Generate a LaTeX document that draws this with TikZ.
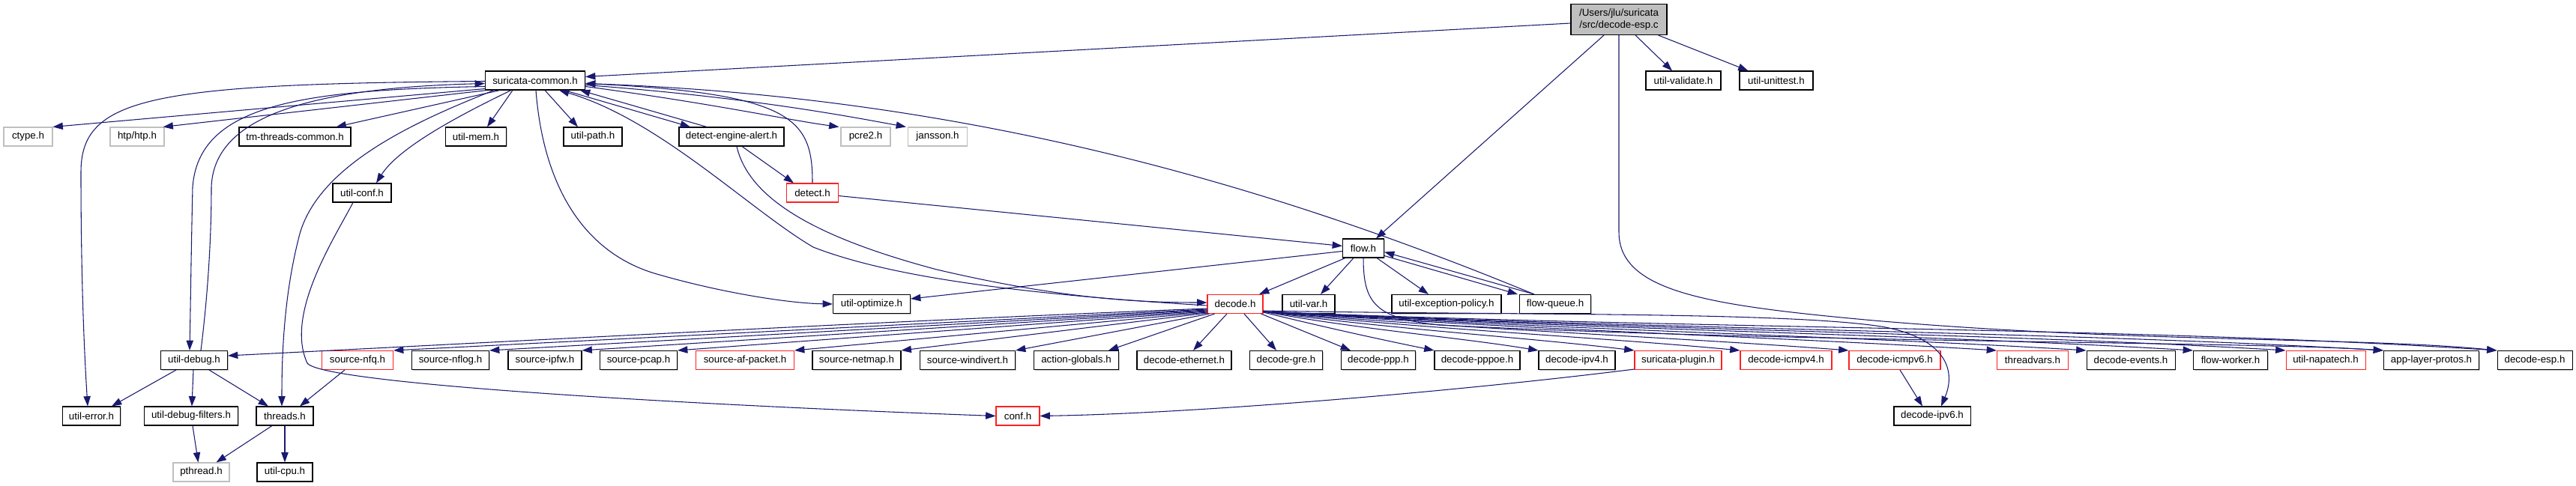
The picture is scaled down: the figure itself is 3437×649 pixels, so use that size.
\documentclass[tikz,border=0pt]{standalone}
\usepackage{fontspec}
\setmainfont{Liberation Sans}
\usetikzlibrary{arrows.meta,calc,shadows}
\definecolor{edgec}{HTML}{191970}
\definecolor{mainfill}{HTML}{BFBFBF}
\definecolor{greyb}{HTML}{BFBFBF}
\definecolor{redb}{HTML}{FF2020}
\begin{document}
\begin{tikzpicture}[x=0.75pt,y=-0.75pt,
  box/.style={fill=white, line width=0.8pt, minimum height=18.75pt, inner sep=0pt, font=\fontsize{10}{12}\selectfont},
  nb/.style={box, draw=black, drop shadow={shadow xshift=0.75pt, shadow yshift=-0.75pt, fill=black!22, opacity=1}},
  nr/.style={box, draw=redb},
  ng/.style={box, draw=greyb},
  w/.style={minimum width=#1*0.75pt},
  e/.style={draw=edgec, line width=0.8pt, -{Triangle[length=10pt,width=7pt]}},
]
\useasboundingbox (0,0) rectangle (3437,649);

% nodes
\node[nb, w=128, minimum height=30.75pt, fill=mainfill, align=center] (main) at (2160,26) {/Users/jlu/suricata\\/src/decode-esp.c};
\node[nb, w=133] (sc) at (714,107.5) {suricata-common.h};
\node[nb, w=100] (uval) at (2246,107.5) {util-validate.h};
\node[nb, w=98] (uunit) at (2370,107.5) {util-unittest.h};
\node[ng, w=65] (ctype) at (37.5,182.5) {ctype.h};
\node[ng, w=72] (htp) at (183,182.5) {htp/htp.h};
\node[nb, w=149] (tmtc) at (393.5,182.5) {tm-threads-common.h};
\node[nb, w=81] (umem) at (635,182.5) {util-mem.h};
\node[nb, w=78] (upath) at (791,182.5) {util-path.h};
\node[nb, w=140] (dea) at (976,182.5) {detect-engine-alert.h};
\node[ng, w=66] (pcre) at (1155,182.5) {pcre2.h};
\node[ng, w=79] (jans) at (1251,182.5) {jansson.h};
\node[nb, w=78] (uconf) at (483,257.5) {util-conf.h};
\node[nr, w=69] (detect) at (1084,257.5) {detect.h};
\node[nb, w=55] (flow) at (1819,331.5) {flow.h};
\node[nb, w=103] (uopt) at (1163,406) {util-optimize.h};
\node[nr, w=74] (decode) at (1648,406) {decode.h};
\node[nb, w=70] (uvar) at (1746,406) {util-var.h};
\node[nb, w=146] (uexc) at (1930,406) {util-exception-policy.h};
\node[nb, w=95] (fq) at (2075,406) {flow-queue.h};

\node[nb, w=89] (udebug) at (259,481) {util-debug.h};
\node[nr, w=95] (nfq) at (477,481) {source-nfq.h};
\node[nb, w=103] (nflog) at (601,481) {source-nflog.h};
\node[nb, w=98] (ipfw) at (727,481) {source-ipfw.h};
\node[nb, w=103] (pcap) at (852,481) {source-pcap.h};
\node[nr, w=131] (afp) at (994,481) {source-af-packet.h};
\node[nb, w=118] (netmap) at (1143,481) {source-netmap.h};
\node[nb, w=127] (windivert) at (1291,481) {source-windivert.h};
\node[nb, w=113] (actg) at (1436,481) {action-globals.h};
\node[nb, w=126] (deth) at (1580,481) {decode-ethernet.h};
\node[nb, w=97] (dgre) at (1716,481) {decode-gre.h};
\node[nb, w=99] (dppp) at (1839,481) {decode-ppp.h};
\node[nb, w=114] (dpppoe) at (1971,481) {decode-pppoe.h};
\node[nb, w=102] (dipv4) at (2104,481) {decode-ipv4.h};
\node[nr, w=116] (splugin) at (2239,481) {suricata-plugin.h};
\node[nr, w=122] (icmp4) at (2383,481) {decode-icmpv4.h};
\node[nr, w=122] (icmp6) at (2528,481) {decode-icmpv6.h};
\node[nr, w=95] (tv) at (2712,481) {threadvars.h};
\node[nb, w=118] (devents) at (2843,481) {decode-events.h};
\node[nb, w=99] (fworker) at (2976,481) {flow-worker.h};
\node[nr, w=106] (napatech) at (3103,481) {util-napatech.h};
\node[nb, w=127] (alp) at (3244,481) {app-layer-protos.h};
\node[nb, w=100] (desp) at (3382,481) {decode-esp.h};

\node[nb, w=77] (uerr) at (122,555.5) {util-error.h};
\node[nb, w=125] (udf) at (255,555.5) {util-debug-filters.h};
\node[nb, w=76] (threads) at (380,555.5) {threads.h};
\node[nr, w=58] (conf) at (1358,555.5) {conf.h};
\node[nb, w=102] (dipv6) at (2578,555.5) {decode-ipv6.h};

\node[ng, w=75] (pthread) at (268.5,630.5) {pthread.h};
\node[nb, w=74] (ucpu) at (380,630.5) {util-cpu.h};

% edges from main
\draw[e] ($(main.west)+(0,5)$) -- ($(sc.east)+(0,-5)$);
\draw[e] ($(main.south)+(-20,0)$) -- ($(flow.north)+(17,0)$);
\draw[e] ($(main.south)+(22,0)$) -- ($(uval.north)+(-15,0)$);
\draw[e] ($(main.south east)+(-12,0)$) -- ($(uunit.north west)+(12,0)$);
\draw[e] (main.south) -- (2160,310) .. controls (2160,390) and (2280,408) .. (2500,428) .. controls (2850,458) and (3150,450) .. (desp.north west);

% edges from suricata-common
\draw[e] ($(sc.south west)+(0,-2)$) -- (ctype.north east);
\draw[e] ($(sc.south west)+(3,0)$) -- ($(htp.north east)+(-2,0)$);
\draw[e] ($(sc.south west)+(20,0)$) -- ($(tmtc.north)+(55,0)$);
\draw[e] ($(sc.south)+(-30,0)$) -- ($(umem.north)+(15,0)$);
\draw[e] ($(sc.south)+(13,0)$) -- ($(upath.north)+(-20,0)$);
\draw[e] ($(sc.south)+(39,0)$) -- ($(dea.north)+(-55,0)$);
\draw[e] ($(dea.north)+(-33,0)$) -- ($(sc.south)+(60,0)$);
\draw[e] ($(sc.east)+(0,8)$) .. controls (950,138) and (1050,160) .. ($(pcre.north west)+(-2,0)$);
\draw[e] ($(sc.east)+(0,6)$) .. controls (1000,130) and (1130,155) .. ($(jans.north west)+(-2,0)$);
\draw[e] ($(sc.south west)+(35,0)$) .. controls (600,160) and (530,200) .. ($(uconf.north)+(19,0)$);
\draw[e] ($(sc.west)+(0,1)$) .. controls (200,112) and (108,130) .. (108,230) .. controls (108,380) and (113,480) .. ($(uerr.north)+(-5,0)$);
\draw[e] ($(sc.west)+(0,8)$) .. controls (400,120) and (265,140) .. (257,250) .. controls (255,340) and (254,420) .. ($(udebug.north)+(-6,0)$);
\draw[e] ($(udebug.north)+(9,0)$) .. controls (274,420) and (282,340) .. (282,250) .. controls (285,160) and (400,118) .. ($(sc.west)+(0,4)$);
\draw[e] ($(sc.south west)+(12,0)$) .. controls (560,160) and (420,220) .. (398,320) .. controls (378,400) and (376,480) .. ($(threads.north)+(-4,0)$);
\draw[e] ($(uconf.south)+(-12,0)$) .. controls (445,320) and (380,420) .. (410,485) .. controls (430,512) and (900,540) .. (conf.west);
\draw[e] ($(sc.south)+(1,0)$) .. controls (725,250) and (780,340) .. (880,367) .. controls (960,390) and (1050,405) .. (uopt.west);
\draw[e] ($(dea.south)+(7,0)$) .. controls (1000,270) and (1100,320) .. (1250,360) .. controls (1400,395) and (1500,404) .. ($(decode.west)+(0,-2)$);
\draw[e] ($(decode.west)+(0,2)$) .. controls (1400,395) and (1200,375) .. (1085,330) .. controls (1000,280) and (880,160) .. ($(sc.south)+(32,0)$);
\draw[e] ($(dea.south)+(14,0)$) -- ($(detect.north)+(-25,0)$);
\draw[e] (detect.north) .. controls (1084,160) and (1060,125) .. ($(sc.east)+(0,4)$);
\draw[e] ($(fq.north west)+(20,0)$) .. controls (1700,250) and (1300,130) .. ($(sc.east)+(0,4)$);

% flow edges
\draw[e] ($(detect.east)+(0,4)$) -- ($(flow.west)+(0,-3)$);
\draw[e] ($(flow.south west)+(4,0)$) -- ($(decode.north)+(32,0)$);
\draw[e] ($(flow.south)+(-13,0)$) -- ($(uvar.north)+(16,0)$);
\draw[e] ($(flow.south)+(18,0)$) -- ($(uexc.north)+(-24,0)$);
\draw[e] ($(flow.south east)+(0,-3)$) -- ($(fq.north west)+(-2,0)$);
\draw[e] ($(fq.north west)+(20,0)$) -- ($(flow.east)+(0,5)$);
\draw[e] ($(flow.west)+(0,4)$) -- ($(uopt.east)+(0,-7)$);
\draw[e] (flow.south) .. controls (1819,405) and (1835,425) .. (1920,434) .. controls (2400,458) and (3000,456) .. (alp.north west);

% decode -> left
\draw[e] ($(decode.west)+(0,6)$) .. controls (1200,428) and (700,455) .. ($(udebug.east)+(0,-6)$);
\draw[e] ($(decode.west)+(0,7)$) -- (nfq.north east);
\draw[e] ($(decode.west)+(0,8)$) -- (nflog.north east);
\draw[e] ($(decode.west)+(0,9)$) -- (ipfw.north east);
\draw[e] ($(decode.west)+(0,10)$) -- (pcap.north east);
\draw[e] ($(decode.west)+(0,11)$) -- (afp.north east);
\draw[e] ($(decode.south west)+(0,-1)$) -- (netmap.north east);
\draw[e] ($(decode.south west)+(3,0)$) -- (windivert.north east);
\draw[e] ($(decode.south west)+(10,0)$) -- ($(actg.north east)+(-14,0)$);
\draw[e] ($(decode.south)+(-11,0)$) -- ($(deth.north)+(12,0)$);

% decode -> right
\draw[e] ($(decode.south)+(12,0)$) -- ($(dgre.north)+(-13,0)$);
\draw[e] ($(decode.south east)+(-3,0)$) -- ($(dppp.north)+(-37,0)$);
\draw[e] ($(decode.east)+(0,11)$) .. controls (1780,440) and (1850,455) .. (dpppoe.north west);
\draw[e] ($(decode.east)+(0,10)$) .. controls (1814,440) and (1943,450) .. (dipv4.north west);
\draw[e] ($(decode.east)+(0,10)$) .. controls (1859,440) and (2032,450) .. (splugin.north west);
\draw[e] ($(decode.east)+(0,10)$) .. controls (1908,440) and (2131,450) .. (icmp4.north west);
\draw[e] ($(decode.east)+(0,10)$) .. controls (1959,440) and (2232,450) .. (icmp6.north west);
\draw[e] ($(decode.east)+(0,10)$) .. controls (2028,440) and (2371,450) .. (tv.north west);
\draw[e] ($(decode.east)+(0,10)$) .. controls (2070,440) and (2454,448) .. (devents.north west);
\draw[e] ($(decode.east)+(0,10)$) .. controls (2120,440) and (2554,446) .. (fworker.north west);
\draw[e] ($(decode.east)+(0,10)$) .. controls (2163,440) and (2640,444) .. (napatech.north west);
\draw[e] ($(decode.east)+(0,10)$) .. controls (2208,440) and (2732,442) .. (alp.north west);
\draw[e] ($(decode.east)+(0,10)$) .. controls (2261,440) and (2838,436) .. (desp.north west);
\draw[e] ($(decode.east)+(0,9)$) .. controls (2000,421) and (2380,416) .. (2510,436) .. controls (2590,450) and (2612,490) .. ($(dipv6.north)+(12,0)$);

% lower edges
\draw[e] ($(icmp6.south)+(7,0)$) -- ($(dipv6.north)+(-13,0)$);
\draw[e] ($(splugin.south west)+(0,-1)$) .. controls (1950,522) and (1600,552) .. (conf.east);
\draw[e] ($(nfq.south)+(-17,0)$) -- ($(threads.north)+(20,0)$);
\draw[e] ($(udebug.south)+(-24,0)$) -- ($(uerr.north)+(27,0)$);
\draw[e] ($(udebug.south)+(-1,0)$) -- ($(udf.north)+(1,0)$);
\draw[e] ($(udebug.south)+(20,0)$) -- ($(threads.north)+(-22,0)$);
\draw[e] ($(udf.south)+(2,0)$) -- ($(pthread.north)+(-4,0)$);
\draw[e] ($(threads.south)+(-17,0)$) -- ($(pthread.north)+(20,0)$);
\draw[e] (threads.south) -- (ucpu.north);
\end{tikzpicture}
\end{document}
